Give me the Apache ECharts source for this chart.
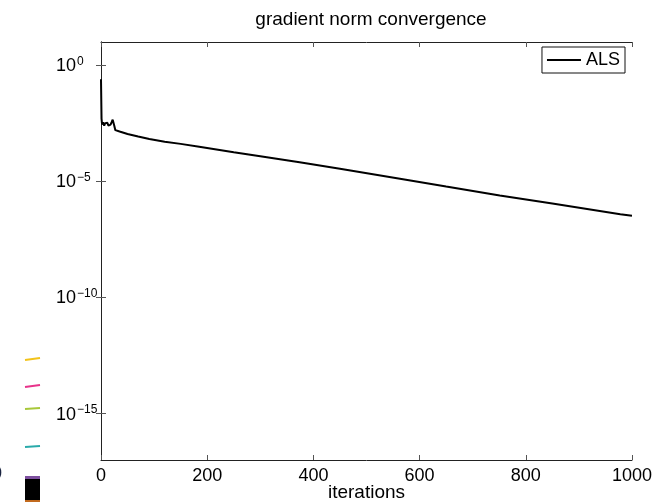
<!DOCTYPE html>
<html><head><meta charset="utf-8">
<script src="https://cdn.jsdelivr.net/npm/echarts@6/dist/echarts.min.js"></script>
<style>html,body{margin:0;padding:0;background:#fff}#c{width:666px;height:502px}</style>
</head><body><div id="c"></div>
<script>
const titleText = 'gradient norm convergence';
const xName = 'iterations';
const seriesName = 'ALS';
const iterations = [0, 1, 2, 4, 6, 8, 10, 12, 14, 16, 18, 20, 22, 23, 25, 27, 35, 50, 70, 91, 120, 150, 185, 250, 300, 374, 450, 563, 650, 751, 850, 978, 1000];
const gradNorm = [2.5e-1, 5e-3, 2.8e-3, 3.5e-3, 2.5e-3, 3.2e-3, 2.8e-3, 3.3e-3, 2.5e-3, 3.0e-3, 2.75e-3, 3.5e-3, 4.5e-3, 5e-3, 2.5e-3, 1.6e-3, 1.4e-3, 1.1e-3, 8.5e-4, 6.6e-4, 5.1e-4, 4.1e-4, 3.1e-4, 1.8e-4, 1.2e-4, 6.6e-5, 3.5e-5, 1.3e-5, 6.0e-6, 2.45e-6, 1.12e-6, 3.8e-7, 3.3e-7];
const xMin = 0, xMax = 1000, xStep = 200;
const yMin = 1e-17, yMax = 1e1;
const yTickValues = [1e-15, 1e-10, 1e-5, 1];

const FONT = '"Liberation Sans", Arial, Helvetica, sans-serif';
const chart = echarts.init(document.getElementById('c'), null, {renderer: 'canvas'});

function yFmt(v) {
  const e = Math.round(Math.log10(v));
  return '{b|10}{s|' + (e < 0 ? '\u2212' + (-e) : e) + '}';
}

const tickStyle = {color: '#555', width: 1};
const lineStyle = {color: '#222', width: 1};

chart.setOption({
  animation: false,
  backgroundColor: '#fff',
  title: {
    text: titleText, left: 366, top: 5, textAlign: 'center',
    textStyle: {fontFamily: FONT, fontSize: 19, fontWeight: 'normal', color: '#000'}
  },
  legend: {
    data: [{name: seriesName, icon: 'rect'}], right: 41, top: 47, orient: 'vertical',
    padding: [4, 5, 4, 5], borderColor: '#111', borderWidth: 1,
    itemWidth: 34, itemHeight: 2,
    textStyle: {fontFamily: FONT, fontSize: 18, color: '#000'}
  },
  grid: {left: 101, right: 34, top: 42, bottom: 42, containLabel: false, outerBoundsMode: 'none'},
  xAxis: [{
    type: 'value', min: xMin, max: xMax, interval: xStep, position: 'bottom',
    name: xName, nameLocation: 'middle', nameGap: 23, nameMoveOverlap: false,
    nameTextStyle: {fontFamily: FONT, fontSize: 19, color: '#000', verticalAlign: 'top'},
    axisLine: {show: true, lineStyle: lineStyle},
    axisTick: {show: true, inside: true, length: 5, lineStyle: tickStyle},
    axisLabel: {margin: 7, fontFamily: FONT, fontSize: 18, color: '#000', formatter: v => String(v)},
    splitLine: {show: false}
  }, {
    type: 'value', min: xMin, max: xMax, interval: xStep, position: 'top',
    axisLine: {show: true, lineStyle: lineStyle},
    axisTick: {show: true, inside: true, length: 5, lineStyle: tickStyle},
    axisLabel: {show: false}, splitLine: {show: false}
  }],
  yAxis: [{
    type: 'log', logBase: 10, min: yMin, max: yMax, position: 'left',
    axisLine: {show: true, lineStyle: lineStyle},
    axisTick: {show: true, inside: true, length: 5, lineStyle: tickStyle, customValues: yTickValues},
    axisLabel: {
      customValues: yTickValues, formatter: yFmt, align: 'left', margin: 45,
      rich: {
        b: {fontFamily: FONT, fontSize: 18, color: '#000', lineHeight: 20, verticalAlign: 'bottom'},
        s: {fontFamily: FONT, fontSize: 12, color: '#000', lineHeight: 12, verticalAlign: 'top', padding: [0, 0, 0, 1]}
      }
    },
    splitLine: {show: false}
  }, {
    type: 'log', logBase: 10, min: yMin, max: yMax, position: 'right',
    axisLine: {show: true, lineStyle: lineStyle},
    axisTick: {show: true, inside: true, length: 5, lineStyle: tickStyle, customValues: yTickValues},
    axisLabel: {show: false}, splitLine: {show: false}
  }],
  series: [{
    name: seriesName, type: 'line', xAxisIndex: 0, yAxisIndex: 0,
    data: iterations.map((it, i) => [it, gradNorm[i]]),
    showSymbol: false, symbol: 'none',
    lineStyle: {color: '#000', width: 2},
    itemStyle: {color: '#000'}
  }],
  graphic: [
    {type: 'line', shape: {x1: 25, y1: 360, x2: 40, y2: 358}, style: {stroke: '#f2c31a', lineWidth: 2}},
    {type: 'line', shape: {x1: 25, y1: 387, x2: 40, y2: 385}, style: {stroke: '#e8338a', lineWidth: 2}},
    {type: 'line', shape: {x1: 25, y1: 409, x2: 40, y2: 408}, style: {stroke: '#a8c83a', lineWidth: 2}},
    {type: 'line', shape: {x1: 25, y1: 447, x2: 40, y2: 446}, style: {stroke: '#2aaaaa', lineWidth: 2}},
    {type: 'rect', shape: {x: 25, y: 476, width: 15, height: 3}, style: {fill: '#7d4f9e'}},
    {type: 'rect', shape: {x: 25, y: 479, width: 15, height: 21}, style: {fill: '#000'}},
    {type: 'rect', shape: {x: 25, y: 500, width: 15, height: 2}, style: {fill: '#c26a1e'}},
    {type: 'text', x: -8, y: 465, style: {text: '0', font: '18px ' + FONT, fill: '#1a2440'}}
  ]
});
</script>
</body></html>
